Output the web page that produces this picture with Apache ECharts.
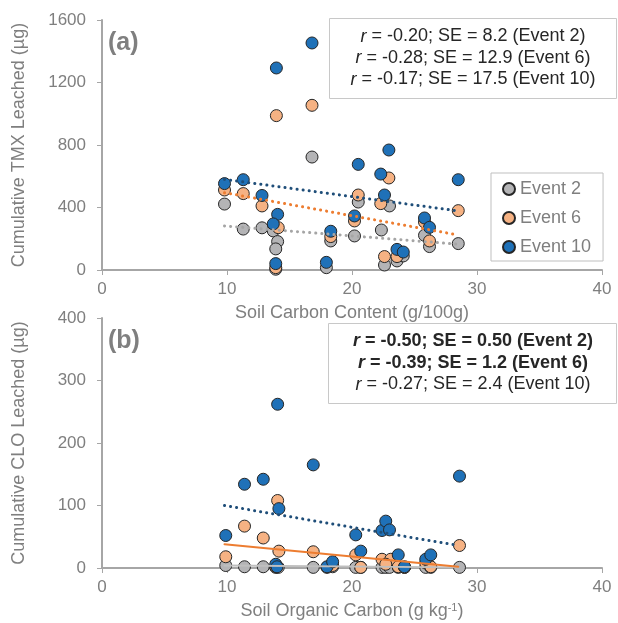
<!DOCTYPE html>
<html>
<head>
<meta charset="utf-8">
<script src="https://cdn.jsdelivr.net/npm/echarts@6/dist/echarts.min.js"></script>
<style>
  html, body { margin: 0; padding: 0; background: #fff; }
  #main { width: 618px; height: 623px; }
</style>
</head>
<body>
<div id="main"></div>
<script>
// (a) TMX, points as [soil carbon, cumulative leached]
var tmxEvent2 = [[9.8,422],[11.3,262],[12.8,270],[13.7,250],[14.05,182],[13.9,135],[13.9,5],[16.8,723],[17.95,15],[18.3,186],[20.2,218],[20.5,435],[22.35,256],[23.0,410],[22.6,32],[23.6,58],[24.1,90],[25.8,222],[26.2,150],[28.5,169]];
var tmxEvent6 = [[9.8,512],[11.3,489],[12.8,410],[13.95,988],[14.1,271],[13.9,15],[16.8,1054],[18.3,214],[20.2,314],[20.5,480],[22.3,425],[22.95,589],[22.6,86],[23.6,86],[25.8,307],[26.2,186],[28.5,380]];
var tmxEvent10 = [[9.8,553],[11.3,578],[12.8,477],[13.95,1293],[14.05,356],[13.7,295],[13.9,41],[16.8,1453],[17.95,49],[18.3,248],[20.2,346],[20.5,676],[22.3,614],[22.95,768],[22.6,480],[23.6,132],[24.1,115],[25.8,333],[26.2,273],[28.5,578]];
var tmxTrend2 = [[9.8,282],[28.5,165]];
var tmxTrend6 = [[9.8,495],[28.5,224]];
var tmxTrend10 = [[9.8,580],[28.5,378]];

// (b) CLO
var cloEvent2 = [[9.9,4],[11.4,2],[12.9,2],[13.9,1],[14.1,1],[16.9,1],[18.0,1],[18.45,2],[20.3,1],[20.7,1],[22.4,1],[22.7,1],[23.0,1],[23.7,1],[24.2,1],[25.9,1],[26.3,1],[28.6,1]];
var cloEvent6 = [[9.9,18],[11.4,67],[12.9,48],[14.05,108],[14.15,27],[13.9,2],[16.9,26],[18.45,4],[20.3,21],[20.7,1],[22.4,14],[23.1,14],[22.7,6],[23.7,2],[24.2,1],[25.9,8],[26.3,2],[28.6,36]];
var cloEvent10 = [[9.9,52],[11.4,134],[12.9,142],[14.05,262],[14.15,95],[13.9,6],[14.0,2],[16.9,165],[18.0,2],[18.45,10],[20.3,53],[20.7,27],[22.4,60],[22.7,75],[23.0,61],[23.7,21],[24.2,2],[25.9,14],[26.3,21],[28.6,147]];
var cloTrend2 = [[9.8,4],[28.5,1]];
var cloTrend6 = [[9.8,38],[28.5,2]];
var cloTrend10 = [[9.8,100],[28.5,36]];

var events = ['Event 2', 'Event 6', 'Event 10'];
var fills = ['#b4b4b6', '#f6b283', '#1f71b8'];
var font = '"Liberation Sans", Arial, sans-serif';
var grey = '#7f7f7f';

var myChart = echarts.init(document.getElementById('main'));

function pts(name, data, i, axis){
	return {
		name: name,
		type: 'scatter',
		xAxisIndex: axis,
		yAxisIndex: axis,
		data: data,
		symbol: 'circle',
		symbolSize: 12,
		itemStyle: { color: fills[i], borderColor: '#262626', borderWidth: 1, opacity: 1 },
		z: 3
	};
}

function trend(data, color, type, axis){
	return {
		type: 'line',
		xAxisIndex: axis,
		yAxisIndex: axis,
		data: data,
		symbol: 'none',
		silent: true,
		lineStyle: { color: color, width: type == 'solid' ? 2 : 3, type: type == 'solid' ? 'solid' : [0.1, 6], cap: 'round' },
		z: 4
	};
}

function xAx(idx, name, rich){
	return {
		gridIndex: idx,
		type: 'value',
		min: 0, max: 40, interval: 10,
		name: name,
		nameLocation: 'middle',
		nameGap: 34,
		nameTextStyle: { color: grey, fontSize: 18, fontFamily: font, rich: rich || {} },
		axisLine: { show: true, lineStyle: { color: '#a6a6a6', width: 2 } },
		axisTick: { show: true, length: 5, lineStyle: { color: '#a6a6a6', width: 1 } },
		axisLabel: { color: grey, fontSize: 17, fontFamily: font, margin: 11 },
		splitLine: { show: false }
	};
}

function yAx(idx, name, max, step){
	return {
		gridIndex: idx,
		type: 'value',
		min: 0, max: max, interval: step,
		name: name,
		nameLocation: 'middle',
		nameGap: 74,
		nameTextStyle: { color: grey, fontSize: 18, fontFamily: font },
		axisLine: { show: true, lineStyle: { color: '#a6a6a6', width: 2 } },
		axisTick: { show: true, length: 5, lineStyle: { color: '#a6a6a6', width: 1 } },
		axisLabel: { color: grey, fontSize: 17, fontFamily: font, margin: 16, formatter: function(v){ return String(v); } },
		splitLine: { show: false }
	};
}

var txt = { fontSize: 18, fontFamily: font, fill: '#262626' };
var rich = {
	i: { fontStyle: 'italic', fontSize: 18, fontFamily: font, color: '#262626' },
	b: { fontWeight: 'bold', fontSize: 18, fontFamily: font, color: '#262626' },
	bi: { fontStyle: 'italic', fontWeight: 'bold', fontSize: 18, fontFamily: font, color: '#262626' }
};

var option = {
	animation: false,
	backgroundColor: '#fff',
	grid: [
		{ left: 102, right: 16, top: 20, height: 250 },
		{ left: 102, right: 16, top: 318, height: 250 }
	],
	xAxis: [
		xAx(0, 'Soil Carbon Content (g/100g)'),
		xAx(1, 'Soil Organic Carbon (g kg{sup|-1})', { sup: { fontSize: 11, color: grey, fontFamily: font, verticalAlign: 'top', padding: [0, 0, 8, 0] } })
	],
	yAxis: [
		yAx(0, 'Cumulative TMX Leached (µg)', 1600, 400),
		yAx(1, 'Cumulative CLO Leached (µg)', 400, 100)
	],
	legend: {
		data: events,
		orient: 'vertical',
		left: 491,
		top: 173,
		padding: [7, 12, 5, 11],
		itemGap: 11,
		itemWidth: 12,
		itemHeight: 12,
		icon: 'circle',
		borderColor: '#bfbfbf',
		borderWidth: 1,
		backgroundColor: '#fff',
		textStyle: { color: grey, fontSize: 18, fontFamily: font }
	},
	graphic: [
		{ type: 'text', left: 108, top: 31, style: { text: '(a)', fontSize: 25, fontWeight: 'bold', fontFamily: font, fill: grey } },
		{ type: 'text', left: 108, top: 329, style: { text: '(b)', fontSize: 25, fontWeight: 'bold', fontFamily: font, fill: grey } },
		{ type: 'rect', shape: { x: 329.5, y: 18.5, width: 287, height: 80 }, style: { fill: '#fff', stroke: '#c8c8c8', lineWidth: 1 }, z: 10 },
		{ type: 'text', x: 473, y: 58, z: 11, style: Object.assign({
			text: '{i|r} = -0.20; SE = 8.2 (Event 2)\n{i|r} = -0.28; SE = 12.9 (Event 6)\n{i|r} = -0.17; SE = 17.5 (Event 10)',
			rich: rich, align: 'center', verticalAlign: 'middle', lineHeight: 21.5 }, txt) },
		{ type: 'rect', shape: { x: 328.5, y: 323.5, width: 288, height: 80 }, style: { fill: '#fff', stroke: '#c8c8c8', lineWidth: 1 }, z: 10 },
		{ type: 'text', x: 473, y: 363, z: 11, style: Object.assign({
			text: '{bi|r}{b| = -0.50; SE = 0.50 (Event 2)}\n{bi|r}{b| = -0.39; SE = 1.2 (Event 6)}\n{i|r} = -0.27; SE = 2.4 (Event 10)',
			rich: rich, align: 'center', verticalAlign: 'middle', lineHeight: 21.5 }, txt) }
	],
	series: [
		pts('Event 2', tmxEvent2, 0, 0),
		pts('Event 6', tmxEvent6, 1, 0),
		pts('Event 10', tmxEvent10, 2, 0),
		trend(tmxTrend2, '#a5a5a5', 'dotted', 0),
		trend(tmxTrend6, '#ed7d31', 'dotted', 0),
		trend(tmxTrend10, '#1f4e79', 'dotted', 0),
		pts('Event 2', cloEvent2, 0, 1),
		pts('Event 6', cloEvent6, 1, 1),
		pts('Event 10', cloEvent10, 2, 1),
		trend(cloTrend2, '#bfbfbf', 'solid', 1),
		trend(cloTrend6, '#ed7d31', 'solid', 1),
		trend(cloTrend10, '#1f4e79', 'dotted', 1)
	]
};

myChart.setOption(option);
</script>
</body>
</html>
